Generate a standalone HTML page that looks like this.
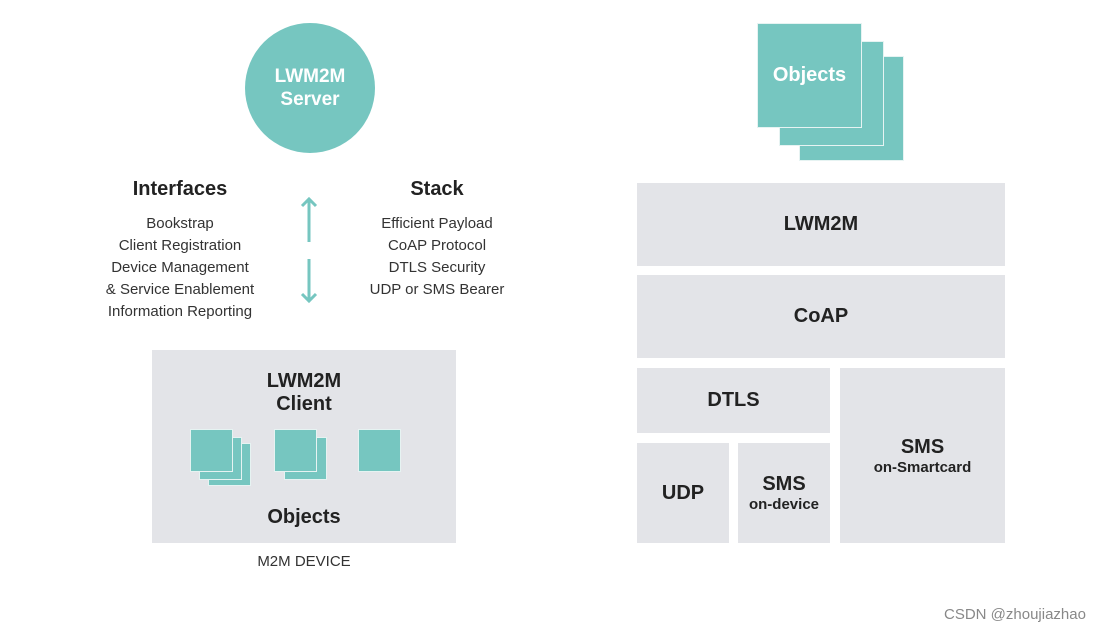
<!DOCTYPE html>
<html><head><style>
body{margin:0;width:1108px;height:637px;background:#fff;position:relative;overflow:hidden;font-family:"Liberation Sans",sans-serif;color:#222}
.a{position:absolute}
.g{position:absolute;background:#e3e4e8;display:flex;align-items:center;justify-content:center;flex-direction:column;font-weight:bold;font-size:20px;color:#222;text-align:center}
.t{position:absolute;background:#76c6c0;border:1px solid #e6f3f2;box-sizing:border-box}
.c{position:absolute;text-align:center;color:#333;font-size:15px;line-height:22px}
</style></head><body>
<div class="a" style="left:245px;top:23px;width:130px;height:130px;border-radius:50%;background:#76c6c0;color:#fff;font-weight:bold;font-size:19px;line-height:23px;display:flex;align-items:center;justify-content:center;text-align:center">LWM2M<br>Server</div>

<div class="c" style="left:80px;top:178px;width:200px;font-size:20px;font-weight:bold;color:#222">Interfaces</div>
<div class="c" style="left:80px;top:213px;width:200px">Bookstrap<br>Client Registration<br>Device Management<br>&amp; Service Enablement<br>Information Reporting</div>
<div class="c" style="left:337px;top:178px;width:200px;font-size:20px;font-weight:bold;color:#222">Stack</div>
<div class="c" style="left:337px;top:213px;width:200px">Efficient Payload<br>CoAP Protocol<br>DTLS Security<br>UDP or SMS Bearer</div>

<svg class="a" style="left:295px;top:192px" width="30" height="116">
<g stroke="#76c6c0" stroke-width="3" fill="none">
<line x1="14" y1="7" x2="14" y2="50"/><polyline points="7,14 14,7 21,14"/>
<line x1="14" y1="67" x2="14" y2="109"/><polyline points="7,102 14,109 21,102"/>
</g></svg>

<div class="g" style="left:152px;top:350px;width:304px;height:193px;justify-content:flex-start">
<div style="margin-top:20px;line-height:23px">LWM2M<br>Client</div>
<div style="position:absolute;top:156px;width:100%">Objects</div>
</div>
<div class="t" style="left:208px;top:443px;width:43px;height:43px"></div>
<div class="t" style="left:199px;top:437px;width:43px;height:43px"></div>
<div class="t" style="left:190px;top:429px;width:43px;height:43px"></div>
<div class="t" style="left:284px;top:437px;width:43px;height:43px"></div>
<div class="t" style="left:274px;top:429px;width:43px;height:43px"></div>
<div class="t" style="left:358px;top:429px;width:43px;height:43px"></div>
<div class="c" style="left:152px;top:551px;width:304px;font-size:15px">M2M DEVICE</div>

<div class="t" style="left:799px;top:56px;width:105px;height:105px"></div>
<div class="t" style="left:779px;top:41px;width:105px;height:105px"></div>
<div class="t" style="left:757px;top:23px;width:105px;height:105px;color:#fff;font-weight:bold;font-size:20px;display:flex;align-items:center;justify-content:center">Objects</div>

<div class="g" style="left:637px;top:183px;width:368px;height:83px">LWM2M</div>
<div class="g" style="left:637px;top:275px;width:368px;height:83px">CoAP</div>
<div class="g" style="left:637px;top:368px;width:193px;height:65px">DTLS</div>
<div class="g" style="left:840px;top:368px;width:165px;height:175px">SMS<div style="font-size:15px">on-Smartcard</div></div>
<div class="g" style="left:637px;top:443px;width:92px;height:100px">UDP</div>
<div class="g" style="left:738px;top:443px;width:92px;height:100px">SMS<div style="font-size:15px">on-device</div></div>

<div class="a" style="left:944px;top:606px;font-size:15px;color:#888">CSDN @zhoujiazhao</div>
</body></html>
